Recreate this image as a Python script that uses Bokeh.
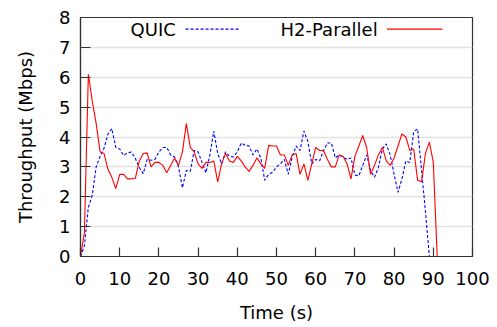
from bokeh.plotting import figure
from bokeh.models import Label, FixedTicker, Range1d
from bokeh.embed import file_html
from bokeh.resources import INLINE

# ---- data ----
time_quic = list(range(0, 90))
quic = [0, 0.35, 1.65, 2.05, 3.0, 3.35, 3.62, 4.1, 4.28, 3.65,
        3.6, 3.38, 3.47, 3.5, 3.28, 2.98, 2.77, 3.25, 3.22, 3.25,
        3.5, 3.65, 3.65, 3.4, 3.33, 3.0, 2.3, 2.88, 2.85, 3.55,
        3.5, 3.15, 2.8, 3.4, 4.2, 3.45, 3.1, 3.5, 3.35, 3.33,
        3.5, 3.8, 3.72, 3.7, 3.4, 3.6, 3.3, 2.55, 2.75, 2.82,
        3.0, 3.1, 3.25, 2.75, 3.33, 3.7, 3.55, 4.2, 3.85, 3.1,
        3.25, 3.2, 3.55, 3.8, 3.8, 3.3, 3.4, 3.33, 3.25, 3.3,
        2.73, 2.7, 3.05, 3.4, 2.88, 2.65, 2.98, 3.6, 3.77, 3.4,
        2.75, 2.15, 2.6, 3.2, 3.15, 4.18, 4.27, 2.9, 1.5, 0]

time_h2 = list(range(0, 92))
h2 = [0, 0.8, 6.1, 5.2, 4.45, 3.5, 3.45, 2.92, 2.65, 2.27,
      2.75, 2.75, 2.6, 2.6, 2.62, 3.2, 3.45, 3.47, 3.0, 3.15,
      3.15, 3.05, 2.8, 3.05, 3.3, 3.05, 3.5, 4.45, 3.65, 3.5,
      3.1, 2.95, 3.15, 3.15, 3.2, 2.5, 3.1, 3.45, 3.2, 3.15,
      3.35, 3.2, 3.0, 2.85, 3.05, 3.3, 3.1, 2.95, 3.72, 3.7,
      3.7, 3.4, 3.4, 3.05, 3.4, 3.45, 2.75, 3.1, 2.55, 3.1,
      3.65, 3.55, 3.55, 3.25, 3.0, 3.0, 3.4, 3.35, 3.1, 2.6,
      3.35, 3.7, 4.05, 3.65, 2.75, 3.05, 3.4, 3.65, 3.2, 3.05,
      3.3, 3.7, 4.1, 4.0, 3.55, 3.6, 2.55, 2.5, 3.45, 3.83,
      3.15, 0]

x_ticks = list(range(0, 101, 10))
y_ticks = list(range(0, 9))
series_names = ["QUIC", "H2-Parallel"]

FONT = "DejaVu Sans"

p = figure(width=497, height=327, output_backend="svg", toolbar_location=None,
           x_range=Range1d(0, 100), y_range=Range1d(0, 8),
           min_border_left=80, min_border_right=25,
           min_border_top=17, min_border_bottom=71)

p.background_fill_color = "white"
p.border_fill_color = "white"
p.outline_line_color = "#333333"
p.outline_line_width = 1.2

p.xgrid.visible = False
p.ygrid.grid_line_color = "#e2e2e2"
p.ygrid.grid_line_width = 1.5
p.ygrid.ticker = FixedTicker(ticks=y_ticks)

for ax, ticks, tick_in in ((p.xaxis, x_ticks, 9), (p.yaxis, y_ticks, 10)):
    ax.ticker = FixedTicker(ticks=ticks)
    ax.major_tick_in = tick_in
    ax.major_tick_out = 0
    ax.minor_tick_line_color = None
    ax.major_tick_line_color = "#333333"
    ax.major_tick_line_width = 1.2
    ax.axis_line_color = "#333333"
    ax.axis_line_width = 1.2
    ax.major_label_text_font = FONT
    ax.major_label_text_font_size = "18px"
    ax.major_label_text_color = "black"
    ax.axis_label_text_font = FONT
    ax.axis_label_text_font_size = "18px"
    ax.axis_label_text_font_style = "normal"
    ax.axis_label_text_color = "black"

p.xaxis.axis_label = "Time (s)"
p.yaxis.axis_label = "Throughput (Mbps)"
p.xaxis.major_label_standoff = 15
p.xaxis.axis_label_standoff = 14
p.yaxis.major_label_standoff = 10
p.yaxis.axis_label_standoff = 20

p.line(time_quic, quic, line_color="blue", line_width=1.1, line_dash="3 2")
p.line(time_h2, h2, line_color="red", line_width=1.1)

# legend (gnuplot style: label then sample)
leg_y = 7.61
p.add_layout(Label(x=24.3, y=leg_y, text=series_names[0], text_align="right",
                   text_baseline="middle", text_font=FONT, text_font_size="18px",
                   text_color="black"))
p.line([26.8, 40.8], [leg_y, leg_y], line_color="blue", line_width=1.1, line_dash="3 2")
p.add_layout(Label(x=75.8, y=leg_y, text=series_names[1], text_align="right",
                   text_baseline="middle", text_font=FONT, text_font_size="18px",
                   text_color="black"))
p.line([78.2, 92.3], [leg_y, leg_y], line_color="red", line_width=1.1)

open("out.html", "w").write(file_html(p, INLINE))
